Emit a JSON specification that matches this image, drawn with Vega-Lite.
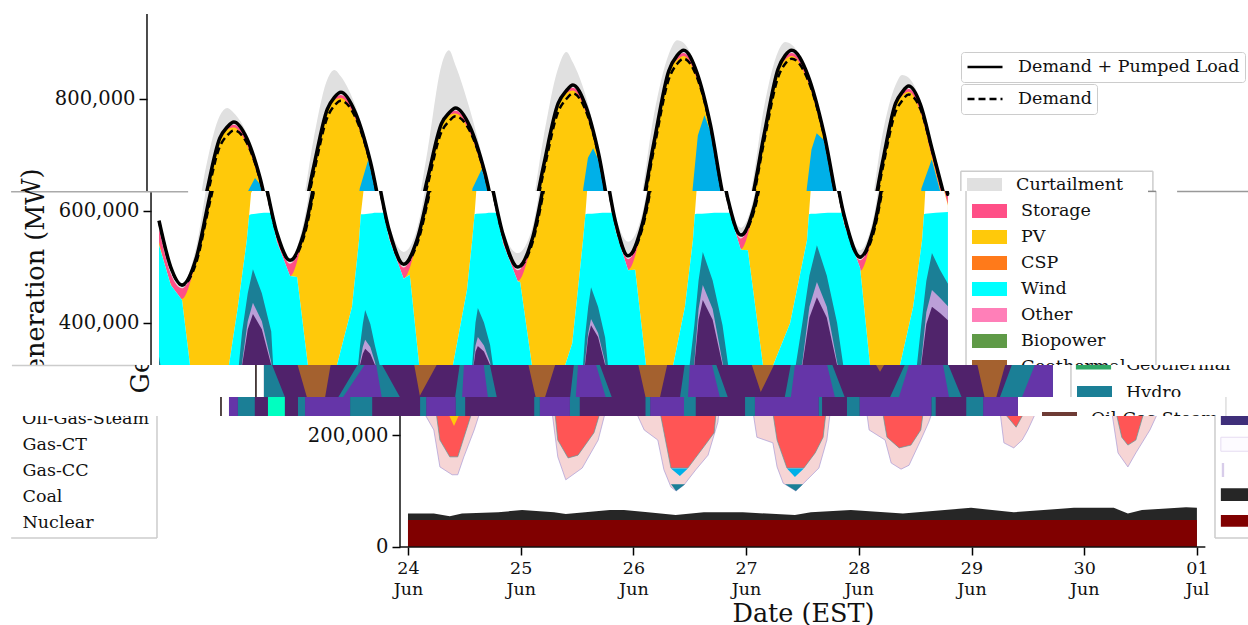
{"$schema":"https://vega.github.io/schema/vega-lite/v6.json","padding":0,"spacing":0,"bounds":"flush","background":"white","data":{"values":[{"k":1}]},
"resolve":{"scale":{"fill":"independent","stroke":"independent","strokeDash":"independent"},"legend":{"fill":"independent","stroke":"independent","strokeDash":"independent"}},
"config":{"view":{"stroke":null,"fill":"white"},"axis":{"labelFont":"DejaVu Serif","titleFont":"DejaVu Serif","labelColor":"#111","titleColor":"#111","grid":false,"zindex":1},"legend":{"labelFont":"DejaVu Serif","labelFontSize":17.5,"labelColor":"#111","symbolType":"M-1,-0.4H1V0.4H-1Z","symbolSize":1225,"clipHeight":20,"rowPadding":6,"labelOffset":14,"padding":0,"symbolStrokeWidth":0,"labelLimit":400}},
"datasets":{
"top":[{"t":0,"dp":583,"d":582,"cur":583,"sto":568,"pv":545},{"t":2.5,"dp":500,"d":499,"cur":500,"sto":488,"pv":470},{"t":4.9,"dp":468,"d":467,"cur":468,"sto":462,"pv":443},{"t":7.9,"dp":515,"d":507,"cur":535,"sto":513,"pv":511},{"t":10.85,"dp":628,"d":616,"cur":678,"sto":627,"pv":625},{"t":13.8,"dp":730,"d":715,"cur":770,"sto":729,"pv":727},{"t":15.4,"dp":750,"d":735,"cur":784,"sto":749,"pv":746},{"t":16.8,"dp":759,"d":744,"cur":775,"sto":754,"pv":749},{"t":19.6,"dp":729,"d":721,"cur":737,"sto":725,"pv":718},{"t":22.35,"dp":660,"d":657,"cur":662,"sto":657,"pv":649},{"t":25.1,"dp":561,"d":559,"cur":561,"sto":558,"pv":546},{"t":27.9,"dp":512,"d":511,"cur":512,"sto":506,"pv":484},{"t":30.8,"dp":560,"d":552,"cur":580,"sto":558,"pv":556},{"t":33.75,"dp":677,"d":665,"cur":727,"sto":676,"pv":674},{"t":36.7,"dp":782,"d":767,"cur":835,"sto":781,"pv":779},{"t":38.2,"dp":803,"d":788,"cur":852,"sto":802,"pv":798},{"t":39.6,"dp":812,"d":797,"cur":840,"sto":807,"pv":802},{"t":42.7,"dp":775,"d":767,"cur":787,"sto":771,"pv":764},{"t":45.85,"dp":689,"d":686,"cur":693,"sto":686,"pv":678},{"t":49,"dp":566,"d":564,"cur":575,"sto":563,"pv":551},{"t":52.1,"dp":505,"d":504,"cur":527,"sto":499,"pv":480},{"t":55,"dp":550,"d":542,"cur":570,"sto":548,"pv":546},{"t":58.05,"dp":658,"d":646,"cur":708,"sto":657,"pv":655},{"t":61,"dp":756,"d":741,"cur":860,"sto":755,"pv":753},{"t":62.6,"dp":775,"d":760,"cur":887,"sto":774,"pv":771},{"t":64,"dp":784,"d":769,"cur":860,"sto":779,"pv":774},{"t":67.1,"dp":750,"d":742,"cur":780,"sto":746,"pv":739},{"t":70.2,"dp":670,"d":667,"cur":680,"sto":667,"pv":659},{"t":73.3,"dp":557,"d":555,"cur":565,"sto":554,"pv":542},{"t":76.4,"dp":500,"d":499,"cur":525,"sto":494,"pv":475},{"t":79.55,"dp":552,"d":544,"cur":572,"sto":550,"pv":548},{"t":82.7,"dp":679,"d":667,"cur":729,"sto":678,"pv":676},{"t":85.85,"dp":792,"d":777,"cur":855,"sto":791,"pv":789},{"t":87.6,"dp":815,"d":800,"cur":884,"sto":814,"pv":810},{"t":89,"dp":825,"d":810,"cur":865,"sto":820,"pv":815},{"t":91.7,"dp":788,"d":780,"cur":806,"sto":784,"pv":777},{"t":94.45,"dp":703,"d":700,"cur":709,"sto":700,"pv":692},{"t":97.2,"dp":581,"d":579,"cur":592,"sto":578,"pv":566},{"t":99.9,"dp":520,"d":519,"cur":545,"sto":514,"pv":495},{"t":103,"dp":579,"d":571,"cur":599,"sto":577,"pv":575},{"t":106.25,"dp":722,"d":710,"cur":772,"sto":721,"pv":719},{"t":109.4,"dp":850,"d":835,"cur":880,"sto":849,"pv":847},{"t":111.2,"dp":878,"d":863,"cur":905,"sto":877,"pv":870},{"t":112.6,"dp":887,"d":872,"cur":900,"sto":882,"pv":877},{"t":115.4,"dp":847,"d":839,"cur":852,"sto":843,"pv":836},{"t":118.25,"dp":755,"d":752,"cur":757,"sto":752,"pv":744},{"t":121.1,"dp":623,"d":621,"cur":623,"sto":620,"pv":608},{"t":123.9,"dp":557,"d":556,"cur":570,"sto":551,"pv":532},{"t":126.8,"dp":610,"d":602,"cur":630,"sto":608,"pv":606},{"t":129.75,"dp":738,"d":726,"cur":788,"sto":737,"pv":735},{"t":132.7,"dp":854,"d":839,"cur":885,"sto":853,"pv":851},{"t":134.2,"dp":878,"d":863,"cur":902,"sto":877,"pv":870},{"t":135.6,"dp":887,"d":872,"cur":897,"sto":882,"pv":877},{"t":139,"dp":843,"d":835,"cur":847,"sto":839,"pv":832},{"t":142.45,"dp":739,"d":736,"cur":741,"sto":736,"pv":728},{"t":145.9,"dp":592,"d":590,"cur":592,"sto":589,"pv":577},{"t":149.3,"dp":518,"d":517,"cur":530,"sto":512,"pv":493},{"t":152.1,"dp":567,"d":559,"cur":587,"sto":565,"pv":563},{"t":154.9,"dp":686,"d":674,"cur":736,"sto":685,"pv":683},{"t":157.7,"dp":792,"d":777,"cur":825,"sto":791,"pv":789},{"t":159.1,"dp":812,"d":797,"cur":843,"sto":811,"pv":806},{"t":160.5,"dp":823,"d":808,"cur":838,"sto":818,"pv":813},{"t":163,"dp":790,"d":782,"cur":796,"sto":786,"pv":777},{"t":165.5,"dp":710,"d":707,"cur":712,"sto":707,"pv":695},{"t":168,"dp":629,"d":627,"cur":629,"sto":626,"pv":612}],
"wind":[{"t":0,"w":539,"c":539},{"t":2.5,"w":468,"c":468},{"t":4.9,"w":441,"c":441},{"t":6.6,"w":325,"c":325},{"t":7.5,"w":280,"c":280},{"t":14,"w":280,"c":280},{"t":14.9,"w":325,"c":325},{"t":16.8,"w":429,"c":429},{"t":18.7,"w":548,"c":548},{"t":19.2,"w":593,"c":593},{"t":19.6,"w":632,"c":594},{"t":21.3,"w":659,"c":596},{"t":22.35,"w":648,"c":597},{"t":23.8,"w":597,"c":597},{"t":25.1,"w":545,"c":545},{"t":27.9,"w":484,"c":484},{"t":29.4,"w":482,"c":482},{"t":31.7,"w":325,"c":325},{"t":32.5,"w":280,"c":280},{"t":37,"w":280,"c":280},{"t":37.9,"w":325,"c":325},{"t":41.1,"w":429,"c":429},{"t":42.6,"w":548,"c":548},{"t":42.98,"w":594,"c":594},{"t":43.6,"w":640,"c":594},{"t":45.4,"w":691,"c":596},{"t":45.85,"w":677,"c":597},{"t":47.9,"w":597,"c":597},{"t":49,"w":550,"c":550},{"t":52.1,"w":479,"c":479},{"t":53.4,"w":486,"c":486},{"t":55.4,"w":325,"c":325},{"t":56.5,"w":280,"c":280},{"t":61.8,"w":280,"c":280},{"t":62.6,"w":325,"c":325},{"t":65.6,"w":460,"c":460},{"t":66.7,"w":548,"c":548},{"t":67.2,"w":594,"c":594},{"t":67.6,"w":640,"c":595},{"t":69.6,"w":675,"c":596},{"t":70.2,"w":658,"c":597},{"t":71.9,"w":597,"c":597},{"t":73.3,"w":541,"c":541},{"t":76.4,"w":474,"c":474},{"t":76.9,"w":473,"c":473},{"t":79.4,"w":325,"c":325},{"t":80.5,"w":280,"c":280},{"t":85.5,"w":280,"c":280},{"t":86.5,"w":325,"c":325},{"t":88,"w":364,"c":364},{"t":89.2,"w":459,"c":459},{"t":90.3,"w":548,"c":548},{"t":90.8,"w":594,"c":594},{"t":91.2,"w":640,"c":595},{"t":92.2,"w":695,"c":595},{"t":93.3,"w":712,"c":596},{"t":94.45,"w":691,"c":597},{"t":96.6,"w":597,"c":597},{"t":97.2,"w":565,"c":565},{"t":99.9,"w":494,"c":494},{"t":101.4,"w":495,"c":495},{"t":103.7,"w":325,"c":325},{"t":104.7,"w":280,"c":280},{"t":108.7,"w":280,"c":280},{"t":109.5,"w":325,"c":325},{"t":112,"w":429,"c":429},{"t":113.7,"w":548,"c":548},{"t":114.1,"w":594,"c":594},{"t":114.5,"w":640,"c":595},{"t":115.6,"w":735,"c":595},{"t":117,"w":771,"c":596},{"t":118.25,"w":743,"c":597},{"t":121.5,"w":597,"c":597},{"t":123.9,"w":531,"c":531},{"t":125.4,"w":530,"c":530},{"t":128.6,"w":325,"c":325},{"t":129.6,"w":280,"c":280},{"t":130,"w":280,"c":280},{"t":130.8,"w":325,"c":325},{"t":134.4,"w":400,"c":400},{"t":138,"w":548,"c":548},{"t":138.4,"w":594,"c":594},{"t":138.8,"w":640,"c":595},{"t":139.8,"w":710,"c":595},{"t":140.9,"w":739,"c":596},{"t":142.45,"w":727,"c":597},{"t":145.4,"w":597,"c":597},{"t":145.9,"w":576,"c":576},{"t":149.3,"w":498,"c":498},{"t":151.4,"w":325,"c":325},{"t":152.4,"w":280,"c":280},{"t":157,"w":280,"c":280},{"t":157.8,"w":325,"c":325},{"t":160.6,"w":429,"c":429},{"t":162.5,"w":548,"c":548},{"t":162.9,"w":594,"c":594},{"t":163.2,"w":640,"c":595},{"t":165.4,"w":692,"c":597},{"t":168,"w":610,"c":598}],
"hills":[{"t":0,"a":340,"b":280,"c":280},{"t":1.2,"a":280,"b":280,"c":280},{"t":16.5,"a":280,"b":280,"c":280},{"t":17,"a":325,"b":280,"c":280},{"t":17.7,"a":385,"b":330,"c":325},{"t":18.9,"a":453,"b":403,"c":389},{"t":20,"a":496,"b":436,"c":416},{"t":21.9,"a":453,"b":403,"c":389},{"t":23.9,"a":385,"b":330,"c":325},{"t":24.3,"a":325,"b":280,"c":280},{"t":24.8,"a":280,"b":280,"c":280},{"t":41.9,"a":280,"b":280,"c":280},{"t":42.4,"a":325,"b":280,"c":280},{"t":42.8,"a":359,"b":330,"c":325},{"t":43.4,"a":398,"b":357,"c":345},{"t":43.9,"a":423,"b":370,"c":354},{"t":45,"a":398,"b":357,"c":345},{"t":46,"a":359,"b":330,"c":325},{"t":47,"a":325,"b":280,"c":280},{"t":47.5,"a":280,"b":280,"c":280},{"t":66.2,"a":280,"b":280,"c":280},{"t":66.7,"a":325,"b":280,"c":280},{"t":67,"a":361,"b":330,"c":325},{"t":67.4,"a":401,"b":360,"c":349},{"t":67.9,"a":427,"b":375,"c":359},{"t":69.2,"a":401,"b":360,"c":349},{"t":70.5,"a":361,"b":330,"c":325},{"t":71.1,"a":325,"b":280,"c":280},{"t":71.6,"a":280,"b":280,"c":280},{"t":89.8,"a":280,"b":280,"c":280},{"t":90.3,"a":325,"b":280,"c":280},{"t":90.7,"a":374,"b":330,"c":325},{"t":91.4,"a":429,"b":382,"c":375},{"t":92,"a":464,"b":407,"c":396},{"t":93.5,"a":429,"b":382,"c":375},{"t":95,"a":374,"b":330,"c":325},{"t":95.6,"a":325,"b":280,"c":280},{"t":96.1,"a":280,"b":280,"c":280},{"t":112.5,"a":280,"b":280,"c":280},{"t":113,"a":325,"b":280,"c":280},{"t":114,"a":396,"b":330,"c":325},{"t":114.9,"a":476,"b":425,"c":406},{"t":115.8,"a":527,"b":468,"c":441},{"t":117.9,"a":476,"b":425,"c":406},{"t":120,"a":396,"b":330,"c":325},{"t":121.2,"a":325,"b":280,"c":280},{"t":121.7,"a":280,"b":280,"c":280},{"t":135.1,"a":280,"b":280,"c":280},{"t":135.6,"a":325,"b":280,"c":280},{"t":137,"a":400,"b":330,"c":325},{"t":138.5,"a":485,"b":429,"c":410},{"t":140.1,"a":539,"b":473,"c":446},{"t":142.2,"a":485,"b":429,"c":410},{"t":144.4,"a":400,"b":330,"c":325},{"t":145.7,"a":325,"b":280,"c":280},{"t":146.2,"a":280,"b":280,"c":280},{"t":160.9,"a":280,"b":280,"c":280},{"t":161.4,"a":325,"b":280,"c":280},{"t":162.3,"a":395,"b":330,"c":325},{"t":163.4,"a":475,"b":419,"c":398},{"t":164.6,"a":525,"b":459,"c":429},{"t":166.3,"a":495,"b":445,"c":418},{"t":168,"a":470,"b":430,"c":405}],
"brown":[{"t":7,"v":330},{"t":9.2,"v":266},{"t":13,"v":266},{"t":14.3,"v":330},{"t":31.9,"v":330},{"t":33.2,"v":270},{"t":37.1,"v":330},{"t":56.2,"v":330},{"t":57.9,"v":266},{"t":59.8,"v":266},{"t":62.2,"v":330},{"t":79.6,"v":330},{"t":81.3,"v":266},{"t":84.3,"v":266},{"t":86,"v":330},{"t":103.7,"v":330},{"t":105.8,"v":277},{"t":108.9,"v":330},{"t":130,"v":330},{"t":131.2,"v":313},{"t":132.4,"v":330},{"t":151.8,"v":330},{"t":153.5,"v":266},{"t":155.9,"v":266},{"t":158,"v":330}],
"teal3":[{"t":0,"v":326},{"t":1.7,"v":326},{"t":4.5,"v":267},{"t":15.8,"v":267},{"t":20,"v":326},{"t":25.1,"v":326},{"t":29,"v":267},{"t":40.7,"v":267},{"t":41.7,"v":326},{"t":48.1,"v":326},{"t":49.6,"v":267},{"t":65.2,"v":267},{"t":66,"v":326},{"t":71.5,"v":326},{"t":74.1,"v":267},{"t":88.6,"v":267},{"t":89.6,"v":326},{"t":96.3,"v":326},{"t":98.8,"v":267},{"t":110.9,"v":267},{"t":112.2,"v":326},{"t":121,"v":326},{"t":123.7,"v":267},{"t":133.3,"v":267},{"t":136.5,"v":326},{"t":145.7,"v":326},{"t":148.6,"v":267},{"t":156.7,"v":267},{"t":159.3,"v":326},{"t":168,"v":326}],
"violet3":[{"t":16.8,"v":267},{"t":21.5,"v":326},{"t":23.9,"v":326},{"t":25.1,"v":267},{"t":42.2,"v":267},{"t":42.6,"v":326},{"t":46.8,"v":326},{"t":47.7,"v":267},{"t":66.4,"v":267},{"t":66.9,"v":326},{"t":70.7,"v":326},{"t":72.8,"v":267},{"t":90.3,"v":267},{"t":90.7,"v":326},{"t":95.4,"v":326},{"t":97.1,"v":267},{"t":112.2,"v":267},{"t":113.1,"v":326},{"t":119.9,"v":326},{"t":121.6,"v":267},{"t":135.2,"v":267},{"t":137.4,"v":326},{"t":144.6,"v":326},{"t":145.9,"v":267},{"t":161.4,"v":267},{"t":164.2,"v":326},{"t":168,"v":326}],
"strip4":[{"a":0,"b":1.9,"s":"Biopower"},{"a":16.2,"b":25.8,"s":"Biopower"},{"a":42,"b":48.3,"s":"Biopower"},{"a":66.2,"b":72.6,"s":"Biopower"},{"a":89.7,"b":96.9,"s":"Biopower"},{"a":112,"b":125.6,"s":"Biopower"},{"a":134.3,"b":149.6,"s":"Biopower"},{"a":160.6,"b":168,"s":"Biopower"},{"a":1.9,"b":5.5,"s":"Hydro"},{"a":14.7,"b":16.2,"s":"Hydro"},{"a":25.8,"b":30.5,"s":"Hydro"},{"a":40.7,"b":42,"s":"Hydro"},{"a":48.3,"b":50.3,"s":"Hydro"},{"a":65,"b":66.2,"s":"Hydro"},{"a":72.6,"b":74.7,"s":"Hydro"},{"a":88.7,"b":89.7,"s":"Hydro"},{"a":96.9,"b":99.4,"s":"Hydro"},{"a":109.9,"b":112,"s":"Hydro"},{"a":125.6,"b":126.3,"s":"Hydro"},{"a":131.6,"b":134.3,"s":"Hydro"},{"a":149.6,"b":150.5,"s":"Hydro"},{"a":157,"b":160.6,"s":"Hydro"},{"a":8.3,"b":11.9,"s":"PV"}],
"pale":[{"t":3.4,"v":240},{"t":5.5,"v":209},{"t":6.8,"v":143},{"t":9.4,"v":129},{"t":10.6,"v":129},{"t":11.9,"v":161},{"t":14.1,"v":209},{"t":15.3,"v":240},{"t":30.7,"v":240},{"t":31.9,"v":161},{"t":33.6,"v":120},{"t":37.1,"v":141},{"t":40.5,"v":191},{"t":42,"v":240},{"t":48.6,"v":240},{"t":50.3,"v":209},{"t":53.2,"v":191},{"t":54.5,"v":138},{"t":56,"v":107},{"t":57.1,"v":100},{"t":58.8,"v":111},{"t":61.3,"v":138},{"t":63.9,"v":164},{"t":66,"v":223},{"t":66.2,"v":240},{"t":73.5,"v":240},{"t":74.3,"v":196},{"t":77.7,"v":186},{"t":78.6,"v":143},{"t":79.9,"v":114},{"t":82.6,"v":100},{"t":85,"v":120},{"t":87.5,"v":141},{"t":89.2,"v":191},{"t":89.9,"v":240},{"t":97.7,"v":240},{"t":98.2,"v":209},{"t":101.6,"v":191},{"t":102.9,"v":150},{"t":105,"v":139},{"t":106.7,"v":146},{"t":109.2,"v":191},{"t":110.9,"v":223},{"t":111.6,"v":240},{"t":126.1,"v":240},{"t":126.9,"v":186},{"t":129,"v":177},{"t":130.8,"v":191},{"t":132,"v":209},{"t":133.7,"v":240},{"t":149.9,"v":240},{"t":151.2,"v":168},{"t":153.3,"v":143},{"t":155,"v":168},{"t":158,"v":209},{"t":159.7,"v":240}],
"red":[{"t":6,"v":240},{"t":6.8,"v":191},{"t":8.9,"v":161},{"t":10.6,"v":161},{"t":13.6,"v":240},{"t":31.3,"v":240},{"t":31.9,"v":191},{"t":34.1,"v":159},{"t":36.2,"v":164},{"t":39.6,"v":204},{"t":40.9,"v":240},{"t":53.7,"v":240},{"t":56,"v":141},{"t":59.6,"v":141},{"t":63,"v":179},{"t":65.2,"v":204},{"t":65.6,"v":240},{"t":77.7,"v":240},{"t":78.6,"v":191},{"t":80.7,"v":141},{"t":84.3,"v":141},{"t":86.7,"v":168},{"t":88.4,"v":196},{"t":89,"v":240},{"t":101.1,"v":240},{"t":102,"v":196},{"t":104.6,"v":177},{"t":107.1,"v":182},{"t":109.2,"v":209},{"t":109.7,"v":240},{"t":126.9,"v":240},{"t":129.5,"v":214},{"t":131.2,"v":240},{"t":150.8,"v":240},{"t":152,"v":196},{"t":153.3,"v":182},{"t":155,"v":191},{"t":156.7,"v":240}],
"yel":[{"t":8.5,"v":240},{"t":9.8,"v":216},{"t":11.1,"v":240}],
"blu":[{"t":56,"v":140},{"t":57.9,"v":127},{"t":59.6,"v":140},{"t":80.7,"v":140},{"t":82.4,"v":125},{"t":84.3,"v":140}],
"tea":[{"t":56,"v":112},{"t":57.1,"v":100},{"t":59,"v":112},{"t":80.3,"v":112},{"t":82.6,"v":100},{"t":84.1,"v":112}],
"coal":[{"t":0,"v":60},{"t":5.5,"v":60},{"t":8.9,"v":55},{"t":11.5,"v":60},{"t":19.2,"v":62},{"t":24.3,"v":66},{"t":31.1,"v":62},{"t":33.6,"v":59},{"t":43,"v":66},{"t":46,"v":66},{"t":51.1,"v":62},{"t":57,"v":57},{"t":63,"v":62},{"t":71.3,"v":62},{"t":82.4,"v":57},{"t":85.8,"v":62},{"t":94.3,"v":66},{"t":105.4,"v":60},{"t":119.9,"v":70},{"t":129,"v":62},{"t":141.8,"v":70},{"t":150.3,"v":70},{"t":153.3,"v":60},{"t":156.3,"v":66},{"t":165.7,"v":71},{"t":168,"v":70}],
"nuke":[{"t":0,"v":48},{"t":168,"v":48}]
},
"vconcat":[
{"width":1248,"height":191,"resolve":{"axis":{"x":"independent","y":"independent"}},"layer":[
{"data":{"name":"top"},"mark":{"type":"area","clip":true,"interpolate":"monotone"},"encoding":{"x":{"field":"t","type":"quantitative","scale":{"domain":[-33,232.75],"nice":false},"axis":null},"y":{"field":"cur","type":"quantitative","scale":{"domain":[635.71,976.79],"nice":false},"axis":{"orient":"left","values":[800],"labelExpr":"format(datum.value*1000,',')","offset":-147,"domain":false,"tickColor":"black","tickSize":8,"tickWidth":1.5,"labelFontSize":19.5,"labelPadding":4,"title":null}},"y2":{"datum":0},"fill":{"datum":"Curtailment","scale":{"domain":["Curtailment"],"range":["#e0e0e0"]},"legend":{"orient":"none","legendX":967,"legendY":175,"title":null}}}},
{"data":{"name":"top"},"mark":{"type":"area","clip":true,"interpolate":"monotone","color":"#ff4f87"},"encoding":{"x":{"field":"t","type":"quantitative","scale":{"domain":[-33,232.75],"nice":false},"axis":null},"y":{"field":"sto","type":"quantitative","scale":{"domain":[635.71,976.79],"nice":false},"axis":null},"y2":{"datum":0}}},
{"data":{"name":"top"},"mark":{"type":"area","clip":true,"interpolate":"monotone","color":"#ffc90a"},"encoding":{"x":{"field":"t","type":"quantitative","scale":{"domain":[-33,232.75],"nice":false},"axis":null},"y":{"field":"pv","type":"quantitative","scale":{"domain":[635.71,976.79],"nice":false},"axis":null},"y2":{"datum":0}}},
{"data":{"name":"wind"},"mark":{"type":"area","clip":true,"color":"#00b0e8"},"encoding":{"x":{"field":"t","type":"quantitative","scale":{"domain":[-33,232.75],"nice":false},"axis":null},"y":{"field":"w","type":"quantitative","scale":{"domain":[635.71,976.79],"nice":false},"axis":null},"y2":{"datum":0}}},
{"data":{"name":"top"},"mark":{"type":"line","clip":true,"interpolate":"monotone","strokeWidth":3.5},"encoding":{"x":{"field":"t","type":"quantitative","scale":{"domain":[-33,232.75],"nice":false},"axis":null},"y":{"field":"dp","type":"quantitative","scale":{"domain":[635.71,976.79],"nice":false},"axis":null},"stroke":{"datum":"Demand + Pumped Load","scale":{"domain":["Demand + Pumped Load"],"range":["black"]},"legend":{"orient":"none","legendX":961,"legendY":52,"title":null,"symbolType":"stroke","symbolStrokeWidth":2.5,"fillColor":"white","strokeColor":"#ccc","cornerRadius":3,"padding":5}}}},
{"data":{"name":"top"},"mark":{"type":"line","clip":true,"interpolate":"monotone","strokeWidth":2.5,"stroke":"black"},"encoding":{"x":{"field":"t","type":"quantitative","scale":{"domain":[-33,232.75],"nice":false},"axis":null},"y":{"field":"d","type":"quantitative","scale":{"domain":[635.71,976.79],"nice":false},"axis":null},"strokeDash":{"datum":"Demand","scale":{"domain":["Demand"],"range":[[7,4]]},"legend":{"orient":"none","legendX":961,"legendY":84,"title":null,"symbolType":"stroke","symbolStrokeWidth":2.5,"symbolStrokeColor":"black","fillColor":"white","strokeColor":"#ccc","cornerRadius":3,"padding":5}}}},
{"mark":{"type":"rule","color":"#111","strokeWidth":1.5},"encoding":{"x":{"datum":-1.7,"scale":{"domain":[-33,232.75],"nice":false},"axis":null},"y":{"datum":952,"scale":{"domain":[635.71,976.79],"nice":false},"axis":null},"y2":{"datum":635.71}}},
{"mark":{"type":"rule","color":"#ccc","strokeWidth":1.5},"encoding":{"x":{"datum":171.6,"scale":{"domain":[-33,232.75],"nice":false},"axis":null},"y":{"datum":671,"scale":{"domain":[635.71,976.79],"nice":false},"axis":null},"y2":{"datum":635.71}}},
{"mark":{"type":"rule","color":"#ccc","strokeWidth":1.5},"encoding":{"x":{"datum":212.5,"scale":{"domain":[-33,232.75],"nice":false},"axis":null},"y":{"datum":671,"scale":{"domain":[635.71,976.79],"nice":false},"axis":null},"y2":{"datum":635.71}}},
{"mark":{"type":"rule","color":"#ccc","strokeWidth":1.5},"encoding":{"x":{"datum":171.6,"scale":{"domain":[-33,232.75],"nice":false},"axis":null},"x2":{"datum":212.5},"y":{"datum":671,"scale":{"domain":[635.71,976.79],"nice":false},"axis":null}}},
{"mark":{"type":"text","text":"Generation (MW)","angle":270,"font":"DejaVu Serif","fontSize":25.5,"clip":true,"baseline":"middle","align":"center","color":"#111"},"encoding":{"x":{"datum":-26.2,"scale":{"domain":[-33,232.75],"nice":false},"axis":null},"y":{"datum":475,"scale":{"domain":[635.71,976.79],"nice":false},"axis":null}}}
]},
{"width":1248,"height":174,"resolve":{"axis":{"x":"independent","y":"independent"}},"layer":[
{"data":{"name":"top"},"mark":{"type":"area","clip":true,"interpolate":"monotone","color":"#e0e0e0"},"encoding":{"x":{"field":"t","type":"quantitative","scale":{"domain":[-33.86,231.9],"nice":false},"axis":null},"y":{"field":"cur","type":"quantitative","scale":{"domain":[325,635.71],"nice":false},"axis":{"orient":"left","values":[600,400],"labelExpr":"format(datum.value*1000,',')","offset":-151,"domain":false,"tickColor":"black","tickSize":8,"tickWidth":1.5,"labelFontSize":19.5,"labelPadding":4,"title":null}},"y2":{"datum":0}}},
{"data":{"name":"top"},"mark":{"type":"area","clip":true,"interpolate":"monotone"},"encoding":{"x":{"field":"t","type":"quantitative","scale":{"domain":[-33.86,231.9],"nice":false},"axis":null},"y":{"field":"sto","type":"quantitative","scale":{"domain":[325,635.71],"nice":false},"axis":null},"y2":{"datum":0},"fill":{"datum":"Storage","scale":{"domain":["Storage","PV","CSP","Wind","Other","Biopower","Geothermal"],"range":["#ff4f87","#ffc90a","#ff7a1a","#00ffff","#ff7fb8","#5f9a47","#a4612f"]},"legend":{"orient":"none","legendX":972,"legendY":10,"title":null}}}},
{"data":{"name":"top"},"mark":{"type":"area","clip":true,"interpolate":"monotone"},"encoding":{"x":{"field":"t","type":"quantitative","scale":{"domain":[-33.86,231.9],"nice":false},"axis":null},"y":{"field":"pv","type":"quantitative","scale":{"domain":[325,635.71],"nice":false},"axis":null},"y2":{"datum":0},"fill":{"datum":"PV","scale":{"domain":["Storage","PV","CSP","Wind","Other","Biopower","Geothermal"],"range":["#ff4f87","#ffc90a","#ff7a1a","#00ffff","#ff7fb8","#5f9a47","#a4612f"]}}}},
{"data":{"name":"wind"},"mark":{"type":"area","clip":true,"color":"white"},"encoding":{"x":{"field":"t","type":"quantitative","scale":{"domain":[-33.86,231.9],"nice":false},"axis":null},"y":{"field":"w","type":"quantitative","scale":{"domain":[325,635.71],"nice":false},"axis":null},"y2":{"datum":0}}},
{"data":{"name":"wind"},"mark":{"type":"area","clip":true},"encoding":{"x":{"field":"t","type":"quantitative","scale":{"domain":[-33.86,231.9],"nice":false},"axis":null},"y":{"field":"c","type":"quantitative","scale":{"domain":[325,635.71],"nice":false},"axis":null},"y2":{"datum":0},"fill":{"datum":"Wind","scale":{"domain":["Storage","PV","CSP","Wind","Other","Biopower","Geothermal"],"range":["#ff4f87","#ffc90a","#ff7a1a","#00ffff","#ff7fb8","#5f9a47","#a4612f"]}}}},
{"data":{"name":"hills"},"mark":{"type":"area","clip":true,"color":"#1b7f96"},"encoding":{"x":{"field":"t","type":"quantitative","scale":{"domain":[-33.86,231.9],"nice":false},"axis":null},"y":{"field":"a","type":"quantitative","scale":{"domain":[325,635.71],"nice":false},"axis":null},"y2":{"datum":0}}},
{"data":{"name":"hills"},"mark":{"type":"area","clip":true,"color":"#bb9fd8"},"encoding":{"x":{"field":"t","type":"quantitative","scale":{"domain":[-33.86,231.9],"nice":false},"axis":null},"y":{"field":"b","type":"quantitative","scale":{"domain":[325,635.71],"nice":false},"axis":null},"y2":{"datum":0}}},
{"data":{"name":"hills"},"mark":{"type":"area","clip":true,"color":"#50246b"},"encoding":{"x":{"field":"t","type":"quantitative","scale":{"domain":[-33.86,231.9],"nice":false},"axis":null},"y":{"field":"c","type":"quantitative","scale":{"domain":[325,635.71],"nice":false},"axis":null},"y2":{"datum":0}}},
{"data":{"name":"top"},"mark":{"type":"line","clip":true,"interpolate":"monotone","strokeWidth":3.5,"stroke":"black"},"encoding":{"x":{"field":"t","type":"quantitative","scale":{"domain":[-33.86,231.9],"nice":false},"axis":null},"y":{"field":"dp","type":"quantitative","scale":{"domain":[325,635.71],"nice":false},"axis":null}}},
{"data":{"name":"top"},"mark":{"type":"line","clip":true,"interpolate":"monotone","strokeWidth":2.5,"stroke":"black","strokeDash":[7,4]},"encoding":{"x":{"field":"t","type":"quantitative","scale":{"domain":[-33.86,231.9],"nice":false},"axis":null},"y":{"field":"d","type":"quantitative","scale":{"domain":[325,635.71],"nice":false},"axis":null}}},
{"mark":{"type":"rule","color":"#111","strokeWidth":1.5},"encoding":{"x":{"datum":-1.7,"scale":{"domain":[-33.86,231.9],"nice":false},"axis":null},"y":{"datum":635.71,"scale":{"domain":[325,635.71],"nice":false},"axis":null},"y2":{"datum":325}}},
{"mark":{"type":"rule","color":"#ccc","strokeWidth":1.5},"encoding":{"x":{"datum":171.85,"scale":{"domain":[-33.86,231.9],"nice":false},"axis":null},"y":{"datum":635.71,"scale":{"domain":[325,635.71],"nice":false},"axis":null},"y2":{"datum":325}}},
{"mark":{"type":"rule","color":"#ccc","strokeWidth":1.5},"encoding":{"x":{"datum":212.3,"scale":{"domain":[-33.86,231.9],"nice":false},"axis":null},"y":{"datum":635.71,"scale":{"domain":[325,635.71],"nice":false},"axis":null},"y2":{"datum":325}}},
{"mark":{"type":"rule","color":"#888","strokeWidth":1.5},"encoding":{"x":{"datum":210.6,"scale":{"domain":[-33.86,231.9],"nice":false},"axis":null},"x2":{"datum":212.3},"y":{"datum":635,"scale":{"domain":[325,635.71],"nice":false},"axis":null}}},
{"mark":{"type":"rule","color":"#aaa","strokeWidth":1.5},"encoding":{"x":{"datum":-31.5,"scale":{"domain":[-33.86,231.9],"nice":false},"axis":null},"x2":{"datum":6.2},"y":{"datum":634.5,"scale":{"domain":[325,635.71],"nice":false},"axis":null}}},
{"mark":{"type":"rule","color":"#999","strokeWidth":1.5},"encoding":{"x":{"datum":216.8,"scale":{"domain":[-33.86,231.9],"nice":false},"axis":null},"x2":{"datum":231.9},"y":{"datum":635,"scale":{"domain":[325,635.71],"nice":false},"axis":null}}},
{"mark":{"type":"text","text":"Generation (MW)","angle":270,"font":"DejaVu Serif","fontSize":25.5,"clip":true,"baseline":"middle","align":"center","color":"#111"},"encoding":{"x":{"datum":-26.2,"scale":{"domain":[-33.86,231.9],"nice":false},"axis":null},"y":{"datum":475,"scale":{"domain":[325,635.71],"nice":false},"axis":null}}}
]},
{"width":1248,"height":32,"layer":[
{"mark":{"type":"rect","clip":true,"color":"#50226b"},"encoding":{"x":{"datum":0,"scale":{"domain":[-56.2,209.55],"nice":false},"axis":null},"x2":{"datum":168},"y":{"datum":267.86,"scale":{"domain":[267.86,325],"nice":false},"axis":null},"y2":{"datum":325}}},
{"data":{"name":"teal3"},"mark":{"type":"area","clip":true},"encoding":{"x":{"field":"t","type":"quantitative","scale":{"domain":[-56.2,209.55],"nice":false},"axis":null},"y":{"field":"v","type":"quantitative","scale":{"domain":[267.86,325],"nice":false},"axis":null},"y2":{"datum":200},"fill":{"datum":"Hydro","scale":{"domain":["Hydro"],"range":["#1b7f96"]},"legend":{"orient":"none","legendX":1077,"legendY":18,"title":null}}}},
{"data":{"name":"violet3"},"mark":{"type":"area","clip":true,"color":"#6535a8"},"encoding":{"x":{"field":"t","type":"quantitative","scale":{"domain":[-56.2,209.55],"nice":false},"axis":null},"y":{"field":"v","type":"quantitative","scale":{"domain":[267.86,325],"nice":false},"axis":null},"y2":{"datum":200}}},
{"data":{"name":"brown"},"mark":{"type":"area","clip":true,"color":"#a4612f"},"encoding":{"x":{"field":"t","type":"quantitative","scale":{"domain":[-56.2,209.55],"nice":false},"axis":null},"y":{"field":"v","type":"quantitative","scale":{"domain":[267.86,325],"nice":false},"axis":null},"y2":{"datum":330}}},
{"mark":{"type":"rule","color":"#1a0a0a","strokeWidth":1.5},"encoding":{"x":{"datum":-1.7,"scale":{"domain":[-56.2,209.55],"nice":false},"axis":null},"y":{"datum":325,"scale":{"domain":[267.86,325],"nice":false},"axis":null},"y2":{"datum":267.86}}},
{"mark":{"type":"rule","color":"#ccc","strokeWidth":1.5},"encoding":{"x":{"datum":171.85,"scale":{"domain":[-56.2,209.55],"nice":false},"axis":null},"y":{"datum":325,"scale":{"domain":[267.86,325],"nice":false},"axis":null},"y2":{"datum":267.86}}},
{"mark":{"type":"rule","color":"#ccc","strokeWidth":1.5},"encoding":{"x":{"datum":-53.66,"scale":{"domain":[-56.2,209.55],"nice":false},"axis":null},"x2":{"datum":-27},"y":{"datum":324.3,"scale":{"domain":[267.86,325],"nice":false},"axis":null}}},
{"mark":{"type":"rect","clip":true,"color":"#2fa866"},"encoding":{"x":{"datum":172.9,"scale":{"domain":[-56.2,209.55],"nice":false},"axis":null},"x2":{"datum":180.4},"y":{"datum":317,"scale":{"domain":[267.86,325],"nice":false},"axis":null},"y2":{"datum":330}}},
{"mark":{"type":"text","text":"Geothermal","font":"DejaVu Serif","fontSize":17.5,"clip":true,"baseline":"middle","align":"left","color":"#111"},"encoding":{"x":{"datum":183.6,"scale":{"domain":[-56.2,209.55],"nice":false},"axis":null},"y":{"datum":325,"scale":{"domain":[267.86,325],"nice":false},"axis":null}}},
{"mark":{"type":"text","text":"Generation (MW)","angle":270,"font":"DejaVu Serif","fontSize":25.5,"clip":true,"baseline":"middle","align":"center","color":"#111"},"encoding":{"x":{"datum":-26.2,"scale":{"domain":[-56.2,209.55],"nice":false},"axis":null},"y":{"datum":475,"scale":{"domain":[267.86,325],"nice":false},"axis":null}}}
]},
{"width":1248,"height":19,"layer":[
{"mark":{"type":"rect","clip":true,"color":"#50226b"},"encoding":{"x":{"datum":0,"scale":{"domain":[-48.76,217],"nice":false},"axis":null},"x2":{"datum":168},"y":{"datum":233.93,"scale":{"domain":[233.93,267.86],"nice":false},"axis":null},"y2":{"datum":267.86}}},
{"data":{"name":"strip4"},"mark":{"type":"rect","clip":true},"encoding":{"x":{"field":"a","type":"quantitative","scale":{"domain":[-48.76,217],"nice":false},"axis":null},"x2":{"field":"b"},"y":{"datum":233.93,"scale":{"domain":[233.93,267.86],"nice":false},"axis":null},"y2":{"datum":267.86},"fill":{"field":"s","type":"nominal","scale":{"domain":["Oil-Gas-Steam","Biopower","Hydro","PV"],"range":["#6e3b35","#6535a8","#1b7f96","#00ffc0"]},"legend":{"orient":"none","legendX":1042,"legendY":12,"title":null,"values":["Oil-Gas-Steam"]}}}},
{"mark":{"type":"rule","color":"#1a0a0a","strokeWidth":1.5},"encoding":{"x":{"datum":-1.7,"scale":{"domain":[-48.76,217],"nice":false},"axis":null},"y":{"datum":267.86,"scale":{"domain":[233.93,267.86],"nice":false},"axis":null},"y2":{"datum":233.93}}},
{"mark":{"type":"rule","color":"#ddd","strokeWidth":1.5},"encoding":{"x":{"datum":212.3,"scale":{"domain":[-48.76,217],"nice":false},"axis":null},"y":{"datum":267.86,"scale":{"domain":[233.93,267.86],"nice":false},"axis":null},"y2":{"datum":233.93}}}
]},
{"width":1248,"height":209,"resolve":{"axis":{"x":"independent","y":"independent"}},"layer":[
{"data":{"name":"pale"},"mark":{"type":"area","clip":true,"stroke":"#a99bd6","strokeWidth":0.7},"encoding":{"x":{"field":"t","type":"quantitative","scale":{"domain":[-86.88,178.88],"nice":false},"axis":{"orient":"bottom","values":[0,24,48,72,96,120,144,168],"labelExpr":"datum.value==168?['01','Jul']:[''+(24+datum.value/24),'Jun']","offset":-78,"domain":false,"tickColor":"black","tickSize":8,"tickWidth":1.5,"labelFontSize":17.5,"labelPadding":4,"labelLineHeight":21,"title":"Date (EST)","titleFontSize":25.5,"titleFontWeight":"normal","titleX":803,"titleY":54}},"y":{"field":"v","type":"quantitative","scale":{"domain":[-139.29,233.93],"nice":false},"axis":{"orient":"left","values":[200,0],"labelExpr":"format(datum.value*1000,',')","offset":-400,"domain":false,"tickColor":"black","tickSize":8,"tickWidth":1.5,"labelFontSize":19.5,"labelPadding":4,"title":null}},"y2":{"datum":241},"fill":{"datum":"Gas-CT","scale":{"domain":["Gas-CT","Gas-CC","Coal","Nuclear"],"range":["#f6d5d5","#ffffff","#262626","#800000"]},"legend":{"orient":"none","legendX":5,"legendY":19,"title":null,"symbolType":"circle","symbolSize":1,"symbolOpacity":0,"labelOffset":0}}}},
{"data":{"name":"red"},"mark":{"type":"area","clip":true,"color":"#ff5555","stroke":"#5f9a9a","strokeWidth":0.7},"encoding":{"x":{"field":"t","type":"quantitative","scale":{"domain":[-86.88,178.88],"nice":false},"axis":null},"y":{"field":"v","type":"quantitative","scale":{"domain":[-139.29,233.93],"nice":false},"axis":null},"y2":{"datum":241}}},
{"data":{"name":"yel"},"mark":{"type":"area","clip":true,"color":"#ffc90a"},"encoding":{"x":{"field":"t","type":"quantitative","scale":{"domain":[-86.88,178.88],"nice":false},"axis":null},"y":{"field":"v","type":"quantitative","scale":{"domain":[-139.29,233.93],"nice":false},"axis":null},"y2":{"datum":241}}},
{"data":{"name":"blu"},"mark":{"type":"area","clip":true,"color":"#00b0e8"},"encoding":{"x":{"field":"t","type":"quantitative","scale":{"domain":[-86.88,178.88],"nice":false},"axis":null},"y":{"field":"v","type":"quantitative","scale":{"domain":[-139.29,233.93],"nice":false},"axis":null},"y2":{"datum":140}}},
{"data":{"name":"tea"},"mark":{"type":"area","clip":true,"color":"#1b7f96"},"encoding":{"x":{"field":"t","type":"quantitative","scale":{"domain":[-86.88,178.88],"nice":false},"axis":null},"y":{"field":"v","type":"quantitative","scale":{"domain":[-139.29,233.93],"nice":false},"axis":null},"y2":{"datum":112}}},
{"data":{"name":"coal"},"mark":{"type":"area","clip":true},"encoding":{"x":{"field":"t","type":"quantitative","scale":{"domain":[-86.88,178.88],"nice":false},"axis":null},"y":{"field":"v","type":"quantitative","scale":{"domain":[-139.29,233.93],"nice":false},"axis":null},"y2":{"datum":0},"fill":{"datum":"Coal","scale":{"domain":["Gas-CT","Gas-CC","Coal","Nuclear"],"range":["#f6d5d5","#ffffff","#262626","#800000"]}}}},
{"data":{"name":"nuke"},"mark":{"type":"area","clip":true},"encoding":{"x":{"field":"t","type":"quantitative","scale":{"domain":[-86.88,178.88],"nice":false},"axis":null},"y":{"field":"v","type":"quantitative","scale":{"domain":[-139.29,233.93],"nice":false},"axis":null},"y2":{"datum":0},"fill":{"datum":"Nuclear","scale":{"domain":["Gas-CT","Gas-CC","Coal","Nuclear"],"range":["#f6d5d5","#ffffff","#262626","#800000"]}}}},
{"mark":{"type":"rule","color":"#111","strokeWidth":1.5},"encoding":{"x":{"datum":-1.7,"scale":{"domain":[-86.88,178.88],"nice":false},"axis":null},"y":{"datum":233.93,"scale":{"domain":[-139.29,233.93],"nice":false},"axis":null},"y2":{"datum":0}}},
{"mark":{"type":"rule","color":"#111","strokeWidth":1.5},"encoding":{"x":{"datum":-1.7,"scale":{"domain":[-86.88,178.88],"nice":false},"axis":null},"x2":{"datum":169.8},"y":{"datum":0,"scale":{"domain":[-139.29,233.93],"nice":false},"axis":null}}},
{"mark":{"type":"rule","color":"#ccc","strokeWidth":1.5},"encoding":{"x":{"datum":-53.45,"scale":{"domain":[-86.88,178.88],"nice":false},"axis":null},"y":{"datum":233.93,"scale":{"domain":[-139.29,233.93],"nice":false},"axis":null},"y2":{"datum":16}}},
{"mark":{"type":"rule","color":"#ccc","strokeWidth":1.5},"encoding":{"x":{"datum":-84.5,"scale":{"domain":[-86.88,178.88],"nice":false},"axis":null},"x2":{"datum":-53.45},"y":{"datum":16,"scale":{"domain":[-139.29,233.93],"nice":false},"axis":null}}},
{"mark":{"type":"rule","color":"#ccc","strokeWidth":1.5},"encoding":{"x":{"datum":171.85,"scale":{"domain":[-86.88,178.88],"nice":false},"axis":null},"y":{"datum":233.93,"scale":{"domain":[-139.29,233.93],"nice":false},"axis":null},"y2":{"datum":16}}},
{"mark":{"type":"rule","color":"#ccc","strokeWidth":1.5},"encoding":{"x":{"datum":171.85,"scale":{"domain":[-86.88,178.88],"nice":false},"axis":null},"x2":{"datum":178.88},"y":{"datum":16,"scale":{"domain":[-139.29,233.93],"nice":false},"axis":null}}},
{"mark":{"type":"rect","clip":true,"color":"#3f2f7a"},"encoding":{"x":{"datum":173.1,"scale":{"domain":[-86.88,178.88],"nice":false},"axis":null},"x2":{"datum":180},"y":{"datum":240,"scale":{"domain":[-139.29,233.93],"nice":false},"axis":null},"y2":{"datum":218}}},
{"mark":{"type":"rect","clip":true,"fill":"#fdfbff","stroke":"#e6dcf2","strokeWidth":1},"encoding":{"x":{"datum":173.1,"scale":{"domain":[-86.88,178.88],"nice":false},"axis":null},"x2":{"datum":180},"y":{"datum":196,"scale":{"domain":[-139.29,233.93],"nice":false},"axis":null},"y2":{"datum":171}}},
{"mark":{"type":"rect","clip":true,"color":"#d8cdea"},"encoding":{"x":{"datum":173.3,"scale":{"domain":[-86.88,178.88],"nice":false},"axis":null},"x2":{"datum":173.8},"y":{"datum":150,"scale":{"domain":[-139.29,233.93],"nice":false},"axis":null},"y2":{"datum":125}}},
{"mark":{"type":"rect","clip":true,"color":"#262626"},"encoding":{"x":{"datum":173.1,"scale":{"domain":[-86.88,178.88],"nice":false},"axis":null},"x2":{"datum":180},"y":{"datum":105,"scale":{"domain":[-139.29,233.93],"nice":false},"axis":null},"y2":{"datum":82}}},
{"mark":{"type":"rect","clip":true,"color":"#800000"},"encoding":{"x":{"datum":173.1,"scale":{"domain":[-86.88,178.88],"nice":false},"axis":null},"x2":{"datum":180},"y":{"datum":57,"scale":{"domain":[-139.29,233.93],"nice":false},"axis":null},"y2":{"datum":36}}},
{"mark":{"type":"text","text":"Oil-Gas-Steam","font":"DejaVu Serif","fontSize":17.5,"clip":true,"baseline":"middle","align":"left","color":"#111"},"encoding":{"x":{"datum":-82.2,"scale":{"domain":[-86.88,178.88],"nice":false},"axis":null},"y":{"datum":228,"scale":{"domain":[-139.29,233.93],"nice":false},"axis":null}}}
]}
]}
